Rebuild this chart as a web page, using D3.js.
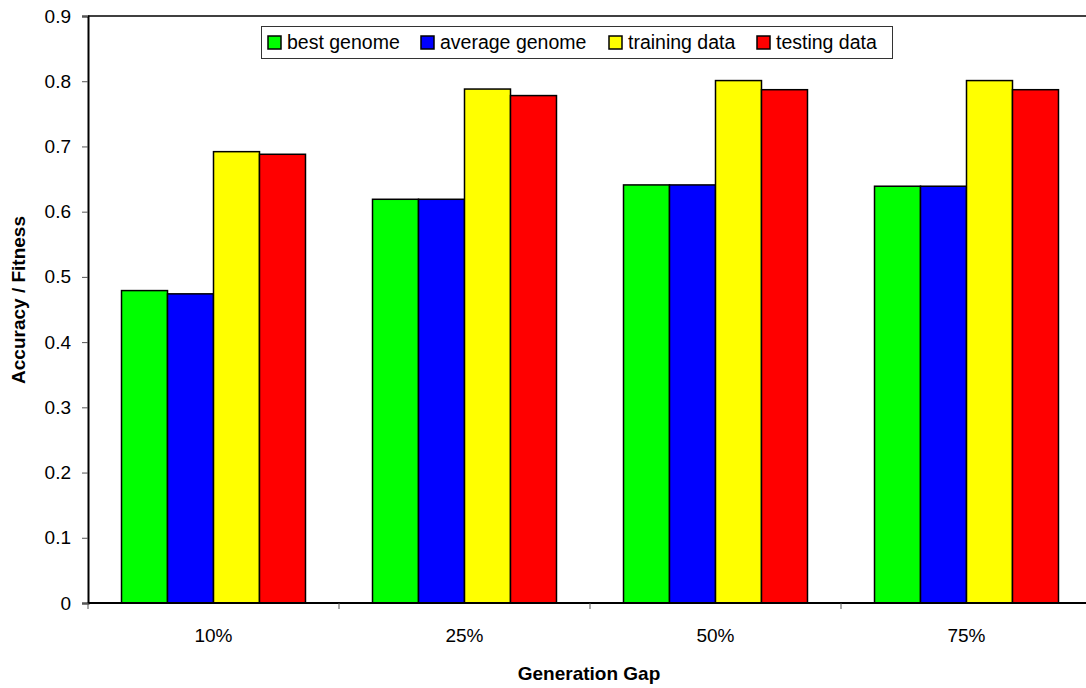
<!DOCTYPE html>
<html><head><meta charset="utf-8">
<script src="https://cdn.jsdelivr.net/npm/d3@7"></script>
<style>body{margin:0;background:#fff;}svg{display:block;font-family:"Liberation Sans",Arial,sans-serif;}</style>
</head><body>
<svg id="chart" width="1086" height="688"></svg>
<script>
const categories = ["10%", "25%", "50%", "75%"];
const seriesNames = ["best genome", "average genome", "training data", "testing data"];
const seriesColors = ["#00ff00", "#0000ff", "#ffff00", "#ff0000"];
const bestGenome = [0.479, 0.619, 0.641, 0.639];
const averageGenome = [0.474, 0.619, 0.641, 0.639];
const trainingData = [0.692, 0.788, 0.801, 0.801];
const testingData = [0.688, 0.778, 0.787, 0.787];
const yTicks = [0, 0.1, 0.2, 0.3, 0.4, 0.5, 0.6, 0.7, 0.8, 0.9];

const seriesValues = [bestGenome, averageGenome, trainingData, testingData];
const svg = d3.select("#chart");
const L = 88, R = 1092, T = 16, B = 603;

const x0 = d3.scaleBand().domain(categories).range([L, R]).paddingInner(0.267).paddingOuter(0.1335);
const x1 = d3.scaleBand().domain(seriesNames).range([0, x0.bandwidth()]);
const y = d3.scaleLinear().domain([0, 0.9]).range([B, T]);

// top border
svg.append("line").attr("x1", L).attr("x2", R).attr("y1", T).attr("y2", T).attr("stroke", "#000").attr("stroke-width", 1.5);

// bars
categories.forEach((c, ci) => {
  seriesNames.forEach((s, si) => {
    const v = seriesValues[si][ci];
    svg.append("rect")
      .attr("x", x0(c) + x1(s))
      .attr("y", y(v))
      .attr("width", x1.bandwidth())
      .attr("height", y(0) - y(v))
      .attr("fill", seriesColors[si])
      .attr("stroke", "#000")
      .attr("stroke-width", 1.5);
  });
});

// y axis
const yAxis = d3.axisLeft(y).tickValues(yTicks).tickFormat(d => d === 0 ? "0" : d3.format(".1f")(d)).tickSize(6).tickPadding(11);
const gy = svg.append("g").attr("transform", `translate(${L},0)`).call(yAxis);
gy.select(".domain").attr("stroke", "#000").attr("stroke-width", 2);
gy.selectAll(".tick line").attr("stroke", "#555");
gy.selectAll(".tick text").attr("font-size", 19).attr("fill", "#000").attr("font-family", "Liberation Sans, Arial, sans-serif");

// x axis
const gx = svg.append("g").attr("transform", `translate(0,${B})`);
gx.append("line").attr("x1", L).attr("x2", R).attr("stroke", "#000").attr("stroke-width", 2);
const boundaries = categories.map(c => x0(c) - x0.step() * x0.paddingOuter()).concat([R]);
boundaries.forEach(b => {
  gx.append("line").attr("x1", b).attr("x2", b).attr("y1", 0).attr("y2", 6).attr("stroke", "#555");
});
categories.forEach(c => {
  gx.append("text").attr("x", x0(c) + x0.bandwidth() / 2).attr("y", 39)
    .attr("text-anchor", "middle").attr("font-size", 19).attr("fill", "#000").text(c);
});

// axis titles
svg.append("text").attr("x", 589).attr("y", 680).attr("text-anchor", "middle")
  .attr("font-size", 19).attr("font-weight", "bold").text("Generation Gap");
svg.append("text").attr("transform", "translate(25,300) rotate(-90)").attr("text-anchor", "middle")
  .attr("font-size", 19).attr("font-weight", "bold").text("Accuracy / Fitness");

// legend
const lg = svg.append("g");
lg.append("rect").attr("x", 261.5).attr("y", 26.5).attr("width", 631).attr("height", 32)
  .attr("fill", "#fff").attr("stroke", "#333").attr("stroke-width", 1);
const swX = [268, 421, 609, 757];
seriesNames.forEach((s, i) => {
  lg.append("rect").attr("x", swX[i]).attr("y", 36).attr("width", 13).attr("height", 13)
    .attr("fill", seriesColors[i]).attr("stroke", "#000").attr("stroke-width", 1.5);
  lg.append("text").attr("x", swX[i] + 19).attr("y", 49).attr("font-size", 19.5).attr("fill", "#000").text(s);
});
</script>
</body></html>
